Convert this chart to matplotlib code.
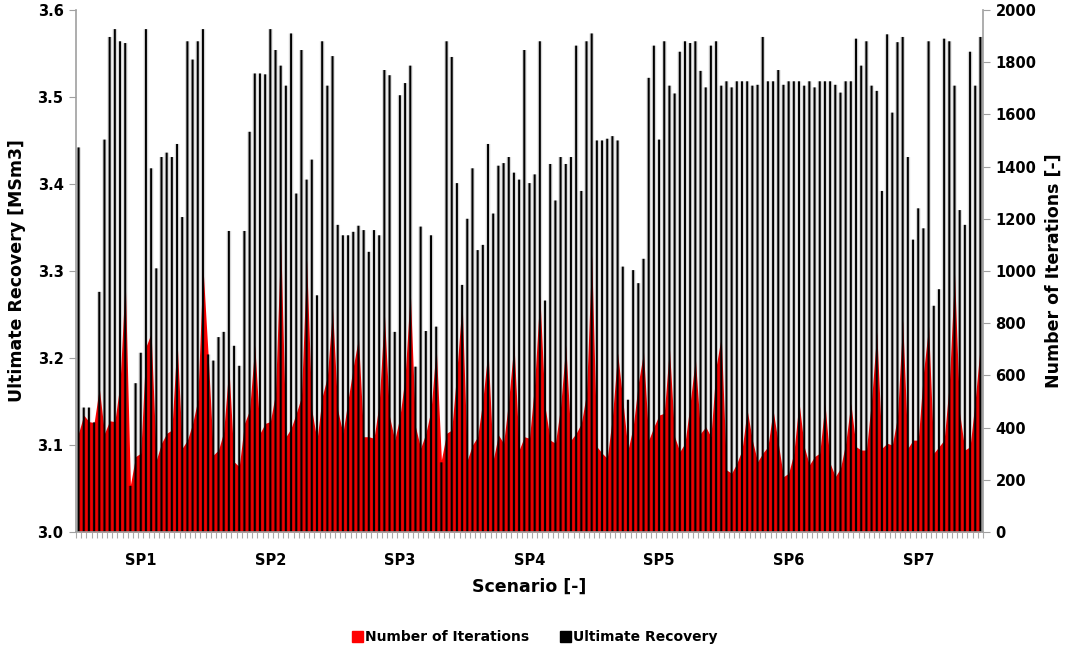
import numpy as np
import matplotlib
matplotlib.use("Agg")
import matplotlib.pyplot as plt
from matplotlib.patches import Patch

plt.rcParams['font.family'] = ['DejaVu Sans']

# scenario groups, 25 runs each
scenarios = ['SP1', 'SP2', 'SP3', 'SP4', 'SP5', 'SP6', 'SP7']
runs_per_scenario = 25

# ultimate recovery per run [MSm3]
recovery = [
    3.442, 3.143, 3.143, 3.126, 3.276, 3.451, 3.569, 3.578, 3.564, 3.562,
    3.053, 3.171, 3.206, 3.578, 3.418, 3.303, 3.431, 3.436, 3.431, 3.446,
    3.362, 3.564, 3.543, 3.564, 3.578,
    3.204, 3.197, 3.224, 3.230, 3.346, 3.214, 3.191, 3.346, 3.460, 3.527,
    3.527, 3.526, 3.578, 3.554, 3.536, 3.513, 3.573, 3.389, 3.554, 3.405,
    3.428, 3.272, 3.564, 3.513, 3.547,
    3.353, 3.341, 3.341, 3.345, 3.352, 3.347, 3.322, 3.347, 3.341, 3.531,
    3.525, 3.230, 3.502, 3.516, 3.536, 3.190, 3.351, 3.231, 3.341, 3.236,
    3.080, 3.564, 3.546, 3.401, 3.284,
    3.360, 3.418, 3.324, 3.330, 3.446, 3.366, 3.421, 3.424, 3.431, 3.413,
    3.405, 3.554, 3.401, 3.411, 3.564, 3.266, 3.423, 3.381, 3.431, 3.423,
    3.431, 3.559, 3.392, 3.564, 3.573,
    3.450, 3.450, 3.452, 3.455, 3.450, 3.305, 3.152, 3.301, 3.286, 3.314,
    3.522, 3.559, 3.451, 3.564, 3.513, 3.504, 3.552, 3.564, 3.562, 3.564,
    3.530, 3.511, 3.559, 3.564, 3.513,
    3.518, 3.511, 3.518, 3.518, 3.518, 3.513, 3.514, 3.569, 3.518, 3.518,
    3.531, 3.514, 3.518, 3.518, 3.518, 3.513, 3.518, 3.511, 3.518, 3.518,
    3.518, 3.514, 3.505, 3.518, 3.518,
    3.567, 3.536, 3.564, 3.513, 3.507, 3.392, 3.572, 3.482, 3.563, 3.569,
    3.431, 3.336, 3.372, 3.349, 3.564, 3.260, 3.279, 3.567, 3.564, 3.513,
    3.370, 3.353, 3.552, 3.513, 3.569,
]

# number of iterations per run
iterations = [
    379, 448, 423, 419, 551, 378, 426, 423, 570, 968,
    180, 289, 302, 710, 761, 276, 340, 378, 391, 736,
    321, 352, 415, 506, 1016,
    678, 295, 314, 384, 633, 269, 250, 416, 467, 716,
    378, 416, 423, 531, 1120, 365, 397, 455, 518, 1042,
    467, 352, 518, 595, 857,
    467, 378, 506, 633, 742, 365, 365, 359, 493, 838,
    442, 352, 442, 595, 921, 403, 321, 378, 467, 710,
    276, 378, 391, 621, 880,
    276, 333, 365, 506, 697, 276, 372, 340, 506, 723,
    314, 365, 359, 570, 908, 480, 352, 340, 480, 716,
    352, 378, 416, 531, 1060,
    327, 302, 282, 442, 685, 506, 314, 403, 570, 688,
    352, 403, 448, 455, 704, 365, 308, 340, 493, 665,
    378, 403, 365, 633, 748,
    238, 225, 263, 314, 467, 352, 269, 302, 327, 467,
    340, 212, 225, 302, 499, 327, 257, 289, 302, 493,
    263, 212, 244, 340, 493,
    327, 314, 314, 506, 767, 321, 340, 333, 442, 812,
    321, 352, 352, 608, 787, 302, 327, 352, 570, 990,
    455, 314, 327, 506, 720,
]

x = np.arange(len(recovery))
centers = [i * runs_per_scenario + (runs_per_scenario - 1) / 2 for i in range(len(scenarios))]

fig = plt.figure(figsize=(10.7, 6.49), dpi=100)
ax = fig.add_axes([0.071, 0.1803, 0.8477, 0.8043])
ax2 = ax.twinx()

# iterations area goes behind the bars
ax2.fill_between(x, iterations, color='#ff0000', linewidth=0, zorder=1)
ax2.set_ylim(0, 2000)
ax2.set_yticks(range(0, 2001, 200))

ax.set_zorder(ax2.get_zorder() + 1)
ax.patch.set_visible(False)

# soft shadow round each bar, then the bar
heights = np.array(recovery) - 3.0
ax.bar(x, heights, bottom=3.0, width=0.9, color='black', alpha=0.12, linewidth=0, snap=False)
ax.bar(x, heights, bottom=3.0, width=0.55, color='black', alpha=0.12, linewidth=0, snap=False)
ax.bar(x, heights, bottom=3.0, width=0.38, color='black', linewidth=0, snap=False)
ax.set_ylim(3.0, 3.6)
ax.set_yticks(np.arange(3.0, 3.61, 0.1))
ax.set_yticklabels(['%.1f' % v for v in np.arange(3.0, 3.61, 0.1)])
ax.set_xlim(-0.5, len(recovery) - 0.5)

ax.set_xticks(centers)
ax.set_xticklabels(scenarios)
ax.set_xticks(np.arange(-0.5, len(recovery), 1), minor=True)
ax.tick_params(axis='x', which='major', length=0, pad=15)
ax.tick_params(axis='x', which='minor', length=4, color='#aaaaaa', width=0.8)

for a in (ax, ax2):
    for s in a.spines.values():
        s.set_visible(False)
ax.spines['left'].set_visible(True)
ax.spines['bottom'].set_visible(True)
ax2.spines['right'].set_visible(True)
for s in (ax.spines['left'], ax.spines['bottom'], ax2.spines['right']):
    s.set_color('#a0a0a0')
    s.set_linewidth(1.2)

ax.tick_params(axis='y', length=5, color='#a0a0a0', pad=4)
ax2.tick_params(axis='y', length=5, color='#a0a0a0', pad=4)

for lab in ax.get_yticklabels() + ax2.get_yticklabels() + ax.get_xticklabels():
    lab.set_fontsize(10.5)
    lab.set_fontweight('bold')

ax.set_xlabel('Scenario [-]', fontsize=12.5, fontweight='bold', labelpad=7)
ax.set_ylabel('Ultimate Recovery [MSm3]', fontsize=12.5, fontweight='bold', labelpad=8)
ax2.set_ylabel('Number of Iterations [-]', fontsize=12.5, fontweight='bold', labelpad=6)

handles = [Patch(color='#ff0000', label='Number of Iterations'),
           Patch(color='black', label='Ultimate Recovery')]
leg = fig.legend(handles=handles, loc='center', bbox_to_anchor=(0.5, 0.018), ncol=2,
                 frameon=False, handlelength=0.75, handleheight=0.9, handletextpad=0.2,
                 columnspacing=2.2, prop={'size': 10, 'weight': 'bold'})

fig.savefig('out.png', dpi=100)
